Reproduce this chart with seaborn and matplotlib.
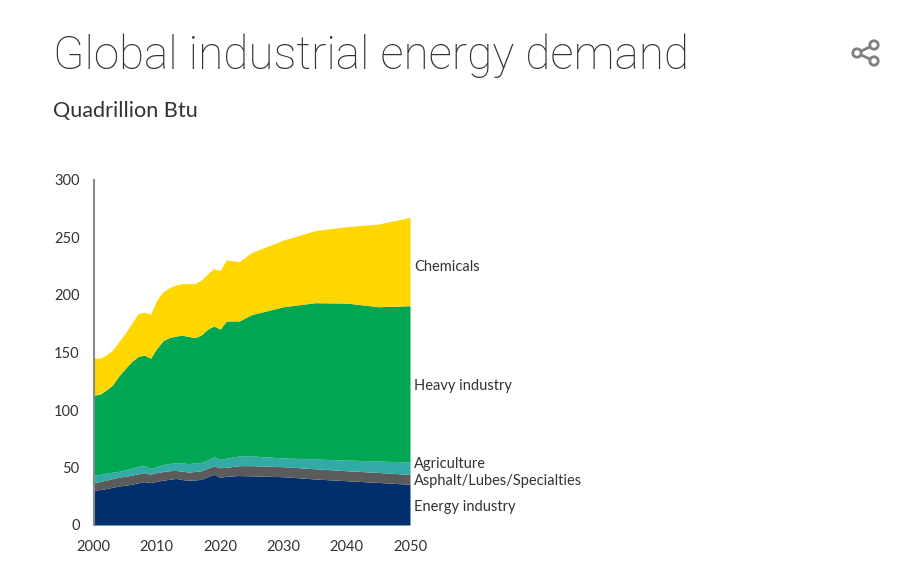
import matplotlib
matplotlib.use("Agg")
import matplotlib.pyplot as plt
from matplotlib.lines import Line2D
from matplotlib.patches import Circle
import seaborn as sns

sns.set_theme(style="white")
plt.rcParams["font.family"] = ["Lato", "DejaVu Sans"]

# ------------------------------
# Data, Quadrillion Btu
# ------------------------------
years = [2000, 2001, 2002, 2003, 2004, 2005, 2006, 2007, 2008, 2009, 2010, 2011, 2012, 2013, 2014,
         2015, 2016, 2017, 2018, 2019, 2020, 2021, 2023, 2025, 2030, 2035, 2040, 2045, 2050]

energy = [30.4, 30.8, 31.6, 32.8, 33.9, 34.6, 35.4, 36.6, 37.7, 36.8, 38.0, 39.0, 39.7, 40.5, 39.5,
          38.9, 39.2, 39.7, 41.9, 44.0, 41.4, 42.4, 43.0, 42.7, 42.0, 40.0, 38.5, 37.0, 35.4]
asphalt = [6.6, 7.0, 7.4, 7.5, 7.6, 7.8, 7.9, 7.9, 7.8, 7.5, 7.5, 7.5, 7.5, 7.0, 7.3,
           7.1, 7.3, 7.4, 7.4, 7.3, 8.4, 7.8, 8.6, 8.9, 8.7, 8.9, 8.7, 8.7, 8.6]
agriculture = [6.5, 6.2, 6.0, 5.7, 5.2, 5.6, 6.0, 6.5, 6.1, 4.9, 5.3, 6.0, 6.4, 6.6, 7.4,
               7.3, 7.5, 7.3, 7.2, 8.1, 7.2, 8.0, 8.4, 8.4, 7.6, 8.5, 9.3, 9.9, 10.8]
heavy = [69.5, 69.6, 72.4, 75.7, 82.9, 88.0, 92.7, 95.4, 96.2, 95.8, 102.8, 107.8, 109.4, 110.2, 110.8,
         110.7, 108.9, 110.8, 113.7, 113.6, 113.4, 119.2, 117.4, 123.0, 131.5, 135.9, 136.5, 134.2, 135.9]
chemicals = [32.0, 31.4, 30.4, 30.3, 29.8, 30.7, 33.0, 37.1, 37.4, 38.2, 42.0, 42.6, 43.4, 44.4, 44.9,
             45.9, 46.9, 47.8, 48.1, 49.9, 50.8, 53.0, 51.6, 54.0, 58.0, 62.7, 66.4, 71.9, 76.8]

series = [energy, asphalt, agriculture, heavy, chemicals]
colors = ["#002F6C", "#5B5B5B", "#32ABA6", "#00A651", "#FFD700"]
labels = ["Energy industry", "Asphalt/Lubes/Specialties", "Agriculture", "Heavy industry", "Chemicals"]
label_y = [16.5, 39, 54, 121.7, 225]

x_ticks = [2000, 2010, 2020, 2030, 2040, 2050]
y_ticks = [0, 50, 100, 150, 200, 250, 300]

TEXT = "#333333"
W, H = 900, 579

fig = plt.figure(figsize=(9, 5.79), dpi=100, facecolor="white")
ax = fig.add_axes([93.5 / W, (H - 525) / H, (410 - 93.5) / W, (525 - 180) / H])

ax.stackplot(years, *series, colors=colors, linewidth=0)
ax.set_xlim(2000, 2050)
ax.set_ylim(0, 300)
ax.set_xticks(x_ticks)
ax.set_yticks(y_ticks)
ax.tick_params(axis="both", length=0, labelsize=10.5, labelcolor=TEXT)
ax.tick_params(axis="x", pad=11)
ax.tick_params(axis="y", pad=10)
ax.patch.set_alpha(0)

sns.despine(ax=ax, bottom=True)
ax.spines["left"].set_color("#8A8A8A")
ax.spines["left"].set_linewidth(1.5)

for name, y in zip(labels, label_y):
    ax.text(2050.7, y - 0.8, name, fontsize=10.5, color=TEXT, va="center", ha="left", clip_on=False)

fig.text(53 / W, 1 - 56 / H, "Global industrial energy demand", fontsize=33,
         family=["Roboto", "DejaVu Sans"], color=TEXT, fontweight="light", va="center", ha="left")
fig.text(53 / W, 1 - 111 / H, "Quadrillion Btu", fontsize=15.6, color=TEXT, va="center", ha="left")

# share icon, top right
icon = "#7F7F7F"
nodes = [(857, 53), (874, 45), (874, 61)]
overlay = fig.add_axes([0, 0, 1, 1], zorder=5)
overlay.set_xlim(0, W)
overlay.set_ylim(H, 0)
overlay.axis("off")
overlay.add_line(Line2D([874, 857, 874], [45, 53, 61], color=icon, lw=2, zorder=1))
for xy in nodes:
    overlay.add_patch(Circle(xy, 4.2, facecolor="white", edgecolor=icon, lw=2, zorder=2))

fig.savefig("out.png", dpi=100)
